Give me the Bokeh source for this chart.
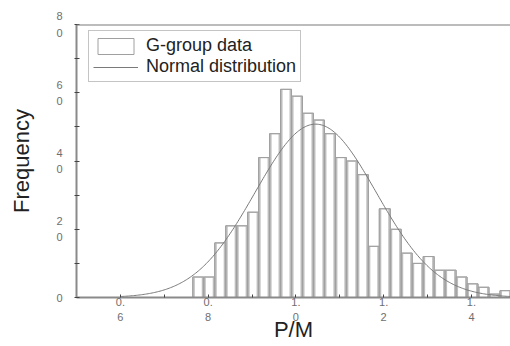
import numpy as np
from bokeh.plotting import figure
from bokeh.models import FixedTicker, Span, Legend, LegendItem, Range1d
from bokeh.embed import file_html
from bokeh.resources import INLINE

# ---- data ----
bin_start = 0.765          # left edge of the first bin
bin_width = 0.025
counts = [6, 6, 16, 21, 21, 25, 41, 48, 61, 59, 54, 52, 48, 41, 40, 36, 15,
          26, 20, 13, 10, 12, 8, 8, 6, 4, 3, 1, 2]

# normal distribution curve parameters (fitted)
normal_mu = 1.045
normal_sigma = 0.138
normal_peak = 50.8
curve_from = 0.6
curve_to = 1.5

x_ticks = [0.6, 0.8, 1.0, 1.2, 1.4]
x_tick_labels = ["0.\n6", "0.\n8", "1.\n0", "1.\n2", "1.\n4"]
x_minor_ticks = [0.5, 0.7, 0.9, 1.1, 1.3]
y_ticks = [0, 20, 40, 60, 80]
y_tick_labels = ["0", "2\n0", "4\n0", "6\n0", "8\n0"]
y_minor_ticks = [10, 30, 50, 70]

series_names = ["G-group data", "Normal distribution"]
x_title = "P/M"
y_title = "Frequency"

# ---- derived ----
n = len(counts)
lefts = np.array([bin_start + i * bin_width for i in range(n)])
rights = lefts + bin_width
tops = np.array(counts, dtype=float)

FONT = "Liberation Sans"
GREY = "#8a8a8a"

p = figure(width=510, height=346, x_range=Range1d(0.5, 1.489), y_range=Range1d(0, 80),
           output_backend="svg", toolbar_location=None,
           min_border_left=76, min_border_right=0, min_border_top=24, min_border_bottom=49)
p.outline_line_color = None
p.grid.visible = False
p.background_fill_color = "white"
p.border_fill_color = "white"

half = 2.0 / 439.0  # half-width of the shaded band on each bar edge (~2 px)

r_bars = p.quad(left=lefts, right=rights, bottom=0, top=tops,
                fill_color="white", line_color="#a0a0a0", line_width=1)
p.quad(left=rights - half, right=rights, bottom=0, top=tops,
       fill_color="#bdbdbd", line_color=None)
p.quad(left=lefts, right=lefts + half, bottom=0, top=tops,
       fill_color="#bdbdbd", line_color=None)
p.quad(left=lefts, right=rights, bottom=0, top=tops,
       fill_color=None, line_color="#a0a0a0", line_width=1)

xs = np.linspace(curve_from, curve_to, 300)
ys = normal_peak * np.exp(-0.5 * ((xs - normal_mu) / normal_sigma) ** 2)
r_curve = p.line(xs, ys, line_color="#7a7a7a", line_width=1)

p.add_layout(Span(location=80, dimension="width", line_color="#7a7a7a", line_width=2))

# axes
xa = p.xaxis[0]
xa.ticker = FixedTicker(ticks=x_ticks, minor_ticks=x_minor_ticks)
xa.major_label_overrides = dict(zip(x_ticks, x_tick_labels))
ya = p.yaxis[0]
ya.ticker = FixedTicker(ticks=y_ticks, minor_ticks=y_minor_ticks)
ya.major_label_overrides = dict(zip(y_ticks, y_tick_labels))

for ax in (xa, ya):
    ax.axis_line_color = GREY
    ax.axis_line_width = 2
    ax.major_tick_line_color = "#444444"
    ax.minor_tick_line_color = "#444444"
    ax.major_tick_in = 3
    ax.minor_tick_in = 3
    ax.major_label_text_font = FONT
    ax.major_label_text_font_size = "11px"
    ax.major_label_text_color = "#6e6e6e"
    ax.axis_label_text_font = FONT
    ax.axis_label_text_font_style = "normal"
    ax.axis_label_text_color = "#222222"

ya.major_tick_out = 2
ya.minor_tick_out = 2
ya.major_label_standoff = 12
ya.major_label_text_line_height = 1.35
ya.axis_label = y_title
ya.axis_label_text_font_size = "22px"
ya.axis_label_standoff = 19

xa.major_tick_out = 0
xa.minor_tick_out = 0
xa.major_label_standoff = -2
xa.major_label_text_line_height = 1.25
xa.axis_label = x_title
xa.axis_label_text_font_size = "22px"
xa.axis_label_standoff = -9

# legend
legend = Legend(items=[LegendItem(label=series_names[0], renderers=[r_bars]),
                       LegendItem(label=series_names[1], renderers=[r_curve])],
                location=(12, 215))
legend.border_line_color = "#8a8a8a"
legend.border_line_width = 1
legend.background_fill_color = "white"
legend.background_fill_alpha = 1
legend.label_text_font = FONT
legend.label_text_font_size = "18px"
legend.label_text_color = "#222222"
legend.glyph_width = 45
legend.glyph_height = 20
legend.label_height = 20
legend.spacing = 0
legend.padding = 4
legend.margin = 0
legend.label_standoff = 8
p.add_layout(legend)

open("out.html", "w").write(file_html(p, INLINE))
